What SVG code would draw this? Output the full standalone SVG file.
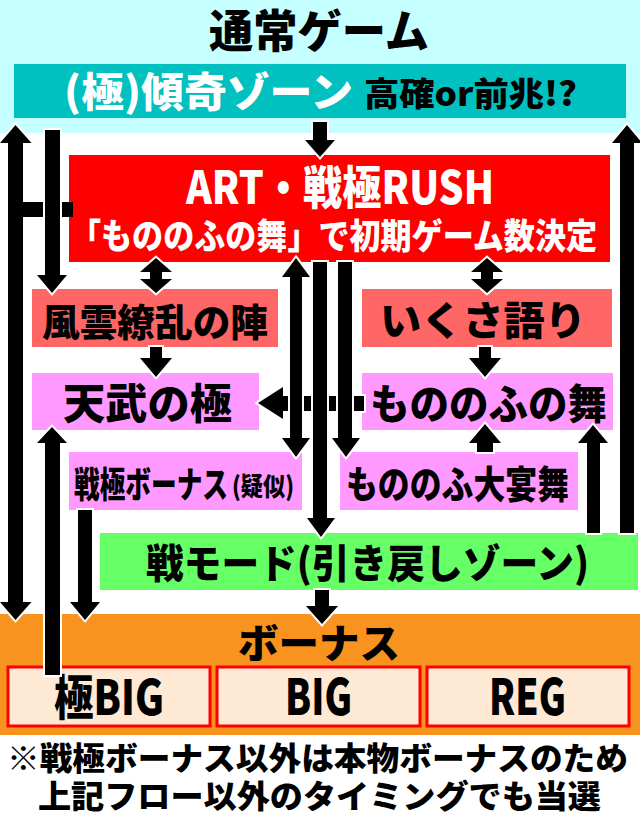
<svg xmlns="http://www.w3.org/2000/svg" width="640" height="821" viewBox="0 0 640 821">
<style>
text{font-family:"Noto Sans CJK JP","Noto Sans",sans-serif;font-weight:900}
.k{fill:#000}
.w{fill:#fff}
.arr{fill:#000;stroke:#fff;stroke-width:4;paint-order:stroke;stroke-linejoin:miter}
.bx{stroke:#ff0000;stroke-width:3;fill:#fde9d4}
</style>
<rect x="0" y="0" width="640" height="821" fill="#fff"/>
<g id="normal">
<rect x="0" y="0" width="640" height="133" fill="#c6ffff"/>
<text class="k" x="209" y="48" font-size="45" textLength="220" lengthAdjust="spacingAndGlyphs">通常ゲーム</text>
</g>
<g id="kabuki-zone">
<rect x="14" y="64" width="612" height="54" fill="#00c0c0"/>
<text class="w" x="64" y="107" font-size="41" textLength="289" lengthAdjust="spacingAndGlyphs">(極)傾奇ゾーン</text>
<text class="k" x="364" y="106" font-size="33" textLength="213" lengthAdjust="spacingAndGlyphs">高確or前兆!?</text>
</g>
<g id="art">
<rect x="69" y="155" width="541" height="107" fill="#ff0000"/>
<text class="w" x="186" y="204" font-size="46" textLength="308" lengthAdjust="spacingAndGlyphs">ART・戦極RUSH</text>
<text class="w" x="70" y="249" font-size="35" textLength="527" lengthAdjust="spacingAndGlyphs">「もののふの舞」で初期ゲーム数決定</text>
</g>
<g id="fuun">
<rect x="32" y="289" width="246" height="58" fill="#ff6666"/>
<text class="k" x="42" y="336" font-size="38" textLength="226" lengthAdjust="spacingAndGlyphs">風雲繚乱の陣</text>
</g>
<g id="ikusa">
<rect x="362" y="289" width="250" height="58" fill="#ff6666"/>
<text class="k" x="380" y="335" font-size="40" textLength="206" lengthAdjust="spacingAndGlyphs">いくさ語り</text>
</g>
<g id="tenbu">
<rect x="32" y="373" width="227" height="57" fill="#ff99ff"/>
<text class="k" x="63" y="419" font-size="42" textLength="169" lengthAdjust="spacingAndGlyphs">天武の極</text>
</g>
<g id="mononofu">
<rect x="362" y="373" width="251" height="57" fill="#ff99ff"/>
<text class="k" x="370" y="419" font-size="41" textLength="237" lengthAdjust="spacingAndGlyphs">もののふの舞</text>
</g>
<g id="sengoku-bonus">
<rect x="69" y="452" width="233" height="58" fill="#ff99ff"/>
<text class="k" x="74" y="498" font-size="36" textLength="154" lengthAdjust="spacingAndGlyphs">戦極ボーナス</text>
<text class="k" x="232" y="496" font-size="26" textLength="62" lengthAdjust="spacingAndGlyphs">(疑似)</text>
</g>
<g id="daienbu">
<rect x="340" y="452" width="238" height="58" fill="#ff99ff"/>
<text class="k" x="346" y="498" font-size="38" textLength="223" lengthAdjust="spacingAndGlyphs">もののふ大宴舞</text>
</g>
<g id="ikusa-mode">
<rect x="100" y="533" width="538" height="57" fill="#66ff66"/>
<text class="k" x="146" y="578" font-size="40" textLength="443" lengthAdjust="spacingAndGlyphs">戦モード(引き戻しゾーン)</text>
</g>
<g id="bonus">
<rect x="0" y="614" width="640" height="121" fill="#f7931e"/>
<text class="k" x="238" y="658" font-size="40" textLength="162" lengthAdjust="spacingAndGlyphs">ボーナス</text>
</g>
<g id="kiwami-big">
<rect class="bx" x="8" y="667" width="202" height="59"/>
<text class="k" x="54" y="715" font-size="48" textLength="110" lengthAdjust="spacingAndGlyphs">極BIG</text>
</g>
<g id="big">
<rect class="bx" x="217" y="667" width="203" height="59"/>
<text class="k" x="285" y="715" font-size="50" textLength="67" lengthAdjust="spacingAndGlyphs">BIG</text>
</g>
<g id="reg">
<rect class="bx" x="427" y="667" width="202" height="59"/>
<text class="k" x="489" y="715" font-size="50" textLength="77" lengthAdjust="spacingAndGlyphs">REG</text>
</g>
<g id="connectors">
<polygon class="arr" points="15.5,125 31.5,143 23,143 23,602 31.5,602 15.5,620 0,602 8,602 8,143 0,143"/>
<rect x="15" y="202" width="58" height="15" fill="#000"/>
<polygon class="arr" points="45,130 60,130 60,275 67,275 52,293 37,275 45,275"/>
<polygon class="arr" points="313,122 327,122 327,140 335,140 320,157 305,140 313,140"/>
<polygon class="arr" points="156,258 172,272 162,272 162,279 172,279 156,293 140,279 150,279 150,272 140,272"/>
<polygon class="arr" points="487,258 503,272 493,272 493,279 503,279 487,293 471,279 481,279 481,272 471,272"/>
<polygon class="arr" points="150,347 162,347 162,358 172,358 156,377 140,358 150,358"/>
<polygon class="arr" points="479,347 491,347 491,358 501,358 485,377 469,358 479,358"/>
<polygon class="arr" points="258,403 283,387 283,396 364,396 364,411 283,411 283,419"/>
<polygon class="arr" points="296,258 310,277 302,277 302,438 310,438 296,457 282,438 290,438 290,277 282,277"/>
<polygon class="arr" points="313,262 327,262 327,518 335,518 321,537 307,518 313,518"/>
<polygon class="arr" points="338,262 352,262 352,438 360,438 346,457 332,438 338,438"/>
<polygon class="arr" points="485,424 501,443 493,443 493,452 477,452 477,443 469,443"/>
<polygon class="arr" points="593,425 608,443 600,443 600,533 587,533 587,443 578,443"/>
<polygon class="arr" points="627,125 642,143 634,143 634,533 620,533 620,143 612,143"/>
<polygon class="arr" points="52,427 67,443 60,443 60,675 45,675 45,443 37,443"/>
<polygon class="arr" points="78,510 92,510 92,602 100,602 85,620 70,602 78,602"/>
<polygon class="arr" points="315,590 329,590 329,606 338,606 322,624 306,606 315,606"/>
</g>
<g id="note">
<text class="k" x="7" y="770" font-size="32" textLength="621" lengthAdjust="spacingAndGlyphs">※戦極ボーナス以外は本物ボーナスのため</text>
<text class="k" x="38" y="808" font-size="32" textLength="563" lengthAdjust="spacingAndGlyphs">上記フロー以外のタイミングでも当選</text>
</g>
</svg>
